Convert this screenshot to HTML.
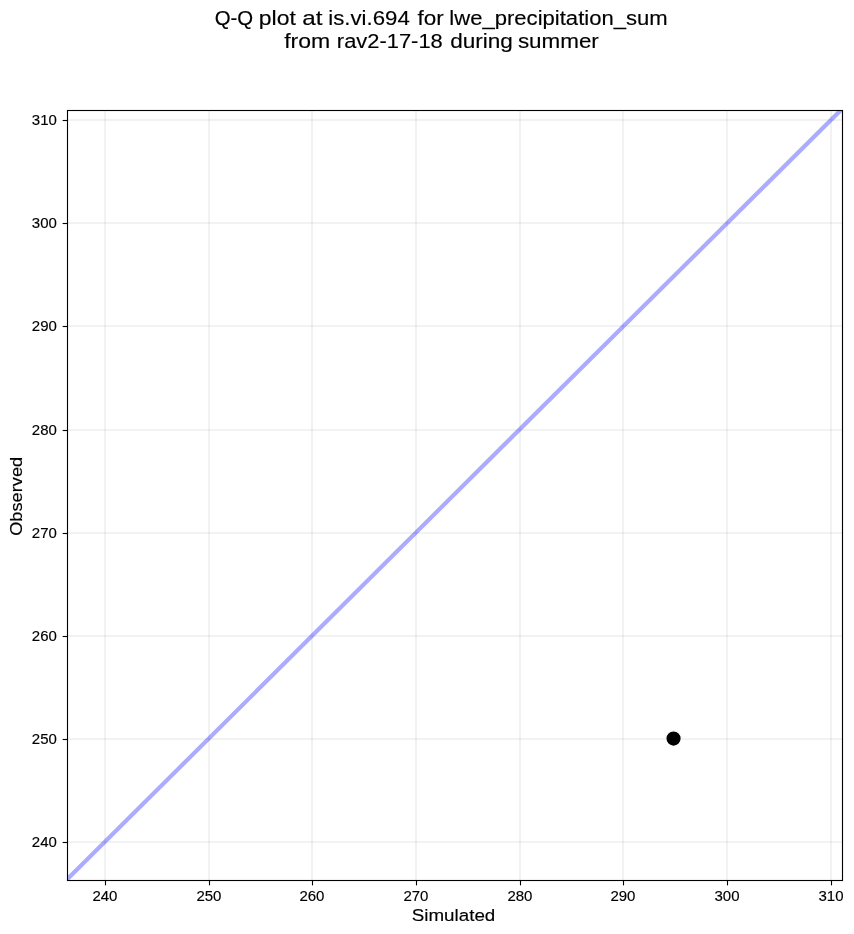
<!DOCTYPE html><html><head><meta charset="utf-8"><style>html,body{margin:0;padding:0;background:#fff;}svg{display:block;will-change:transform;}text{font-family:"Liberation Sans",sans-serif;fill:#000;stroke:#000;stroke-width:0.15px;}</style></head><body>
<svg width="854" height="934" viewBox="0 0 854 934">
<rect width="854" height="934" fill="#fff"/>
<defs><clipPath id="ax"><rect x="67.5" y="110.5" width="775.0" height="770.0"/></clipPath></defs>
<g stroke="#000" stroke-opacity="0.05" stroke-width="2.0" clip-path="url(#ax)">
<line x1="105.00" y1="110.5" x2="105.00" y2="880.5"/>
<line x1="209.00" y1="110.5" x2="209.00" y2="880.5"/>
<line x1="312.00" y1="110.5" x2="312.00" y2="880.5"/>
<line x1="416.00" y1="110.5" x2="416.00" y2="880.5"/>
<line x1="520.00" y1="110.5" x2="520.00" y2="880.5"/>
<line x1="623.00" y1="110.5" x2="623.00" y2="880.5"/>
<line x1="727.00" y1="110.5" x2="727.00" y2="880.5"/>
<line x1="831.00" y1="110.5" x2="831.00" y2="880.5"/>
<line x1="67.5" y1="842.00" x2="842.5" y2="842.00"/>
<line x1="67.5" y1="739.00" x2="842.5" y2="739.00"/>
<line x1="67.5" y1="636.00" x2="842.5" y2="636.00"/>
<line x1="67.5" y1="533.00" x2="842.5" y2="533.00"/>
<line x1="67.5" y1="430.00" x2="842.5" y2="430.00"/>
<line x1="67.5" y1="326.00" x2="842.5" y2="326.00"/>
<line x1="67.5" y1="223.00" x2="842.5" y2="223.00"/>
<line x1="67.5" y1="120.00" x2="842.5" y2="120.00"/>
</g>
<line x1="45.99" y1="900.37" x2="860.68" y2="90.36" stroke="#0000ff" stroke-opacity="0.33" stroke-width="4.17" clip-path="url(#ax)"/>
<circle cx="673.55" cy="738.6" r="7.75" fill="#000" stroke="#fff" stroke-width="1.3"/>
<rect x="67.5" y="110.5" width="775.00" height="770.00" fill="none" stroke="#000" stroke-width="1.11" stroke-linejoin="miter" stroke-linecap="square"/>
<g stroke="#000" stroke-width="1.11">
<line x1="105.50" y1="880.5" x2="105.50" y2="885.36"/>
<line x1="62.64" y1="842.50" x2="67.5" y2="842.50"/>
<line x1="209.50" y1="880.5" x2="209.50" y2="885.36"/>
<line x1="62.64" y1="739.50" x2="67.5" y2="739.50"/>
<line x1="312.50" y1="880.5" x2="312.50" y2="885.36"/>
<line x1="62.64" y1="636.50" x2="67.5" y2="636.50"/>
<line x1="416.50" y1="880.5" x2="416.50" y2="885.36"/>
<line x1="62.64" y1="533.50" x2="67.5" y2="533.50"/>
<line x1="520.50" y1="880.5" x2="520.50" y2="885.36"/>
<line x1="62.64" y1="430.50" x2="67.5" y2="430.50"/>
<line x1="623.50" y1="880.5" x2="623.50" y2="885.36"/>
<line x1="62.64" y1="326.50" x2="67.5" y2="326.50"/>
<line x1="727.50" y1="880.5" x2="727.50" y2="885.36"/>
<line x1="62.64" y1="223.50" x2="67.5" y2="223.50"/>
<line x1="831.50" y1="880.5" x2="831.50" y2="885.36"/>
<line x1="62.64" y1="120.50" x2="67.5" y2="120.50"/>
</g>
<text transform="translate(214.63,24.60) scale(1.0103,1)" font-size="20.20">Q-Q</text>
<text transform="translate(258.82,24.60) scale(1.1376,1)" font-size="20.20">plot</text>
<text transform="translate(302.37,24.60) scale(1.1995,1)" font-size="20.20">at</text>
<text transform="translate(328.31,24.60) scale(1.1003,1)" font-size="20.20">is.vi.694</text>
<text transform="translate(417.38,24.60) scale(1.1154,1)" font-size="20.20">for</text>
<text transform="translate(449.31,24.60) scale(1.0930,1)" font-size="20.20">lwe_precipitation_sum</text>
<text transform="translate(284.17,47.70) scale(1.1397,1)" font-size="20.20">from</text>
<text transform="translate(336.84,47.70) scale(1.0852,1)" font-size="20.20">rav2-17-18</text>
<text transform="translate(450.15,47.70) scale(1.1185,1)" font-size="20.20">during</text>
<text transform="translate(517.88,47.70) scale(1.1103,1)" font-size="20.20">summer</text>
<text transform="translate(31.84,847.20) scale(1.0740,1)" font-size="13.98">240</text>
<text transform="translate(92.39,900.70) scale(1.0740,1)" font-size="13.98">240</text>
<text transform="translate(31.84,744.20) scale(1.0740,1)" font-size="13.98">250</text>
<text transform="translate(196.39,900.70) scale(1.0740,1)" font-size="13.98">250</text>
<text transform="translate(31.84,641.20) scale(1.0740,1)" font-size="13.98">260</text>
<text transform="translate(299.39,900.70) scale(1.0740,1)" font-size="13.98">260</text>
<text transform="translate(31.84,538.20) scale(1.0740,1)" font-size="13.98">270</text>
<text transform="translate(403.39,900.70) scale(1.0740,1)" font-size="13.98">270</text>
<text transform="translate(31.84,435.20) scale(1.0740,1)" font-size="13.98">280</text>
<text transform="translate(507.39,900.70) scale(1.0740,1)" font-size="13.98">280</text>
<text transform="translate(31.84,331.20) scale(1.0740,1)" font-size="13.98">290</text>
<text transform="translate(610.39,900.70) scale(1.0740,1)" font-size="13.98">290</text>
<text transform="translate(31.84,228.20) scale(1.0740,1)" font-size="13.98">300</text>
<text transform="translate(714.48,900.70) scale(1.0740,1)" font-size="13.98">300</text>
<text transform="translate(31.84,125.20) scale(1.0740,1)" font-size="13.98">310</text>
<text transform="translate(818.48,900.70) scale(1.0740,1)" font-size="13.98">310</text>
<text transform="translate(411.75,920.80) scale(1.1219,1)" font-size="16.75">Simulated</text>
<text transform="translate(21.95,535.79) rotate(-90) scale(1.1036,1)" font-size="16.52">Observed</text>
</svg></body></html>
